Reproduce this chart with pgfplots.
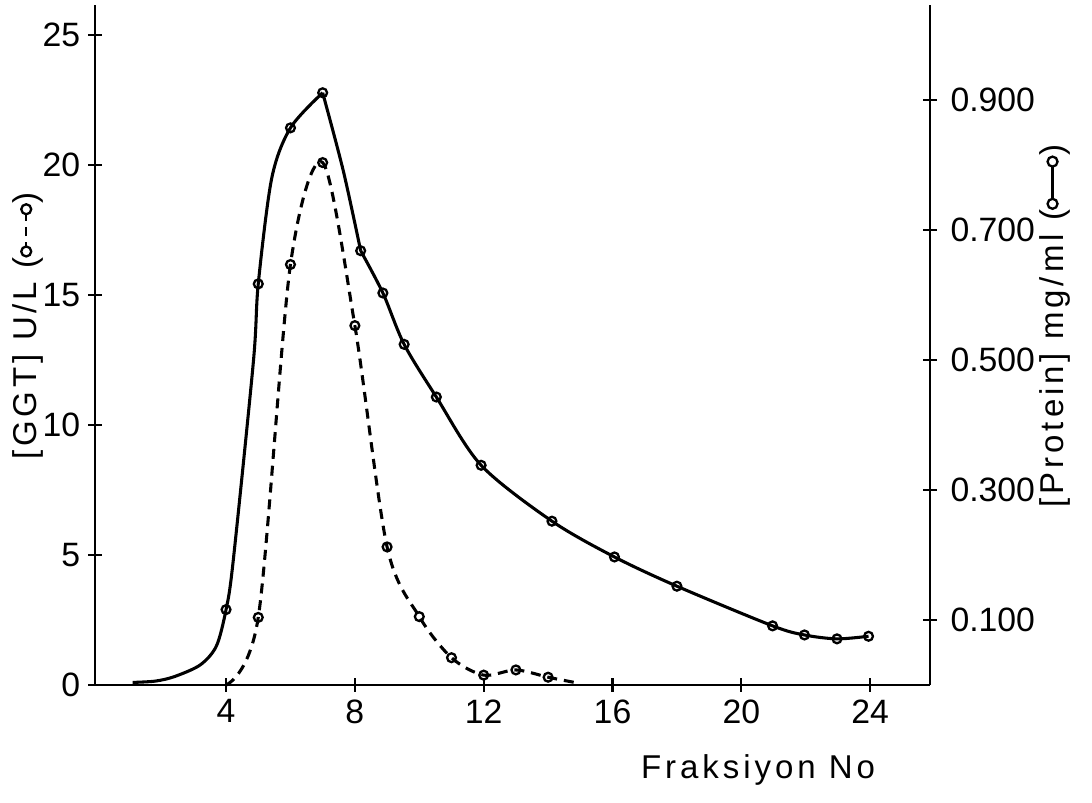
\documentclass[border=0pt]{standalone}
\usepackage{fontspec}
\setmainfont{Liberation Sans}
\newfontfamily\labfont{Liberation Sans}[LetterSpace=12]
\usepackage{pgfplots}
\pgfplotsset{compat=1.18}

% GGT activity, U/L (dashed, left axis)
\pgfplotstableread{
x y
4     0
5     2.60
6     16.17
7     20.09
8     13.82
9     5.31
10    2.63
11    1.05
12    0.38
13    0.58
14    0.30
14.86 0.09
}\ggt
\pgfplotstableread{
x y
5     2.60
6     16.17
7     20.09
8     13.82
9     5.31
10    2.63
11    1.05
12    0.38
13    0.58
14    0.30
}\ggtPts
% protein, mg/ml (solid, right axis): rise to the peak
\pgfplotstableread{
x y
1.1  0.004
1.8  0.006
2.4  0.013
3.2  0.031
3.7  0.060
4    0.116
4.22 0.190
4.85 0.498
5    0.617
5.42 0.780
6    0.857
7    0.911
}\protA
\pgfplotstableread{
x y
7     0.911
7.64  0.791
8.18  0.668
}\protB
\pgfplotstableread{
x y
8.18  0.668
8.87  0.603
9.53  0.524
10.53 0.443
11.92 0.338
14.12 0.252
16.06 0.197
18.0  0.152
20.97 0.091
21.96 0.077
22.97 0.071
23.95 0.075
}\protC
% measured protein points
\pgfplotstableread{
x y
4     0.116
5     0.617
6     0.857
7     0.911
8.18  0.668
8.87  0.603
9.53  0.524
10.53 0.443
11.92 0.338
14.12 0.252
16.06 0.197
18.0  0.152
20.97 0.091
21.96 0.077
22.97 0.071
23.95 0.075
}\protPts

\newcommand\tickfont{\fontsize{8.8}{10}\selectfont}
\newcommand\sym[1]{\tikz[baseline=-0.6ex]{\draw[#1,line width=0.6pt] (0,0)--(11pt,0);
  \draw[line width=0.6pt,fill=white] (0,0) circle (1.3pt) (11pt,0) circle (1.3pt);}}

\pgfplotsset{
  base/.style={
    scale only axis, width=217.6pt, height=177.2pt,
    xmin=-0.07, xmax=25.86,
    axis line style={line width=0.65pt},
    tick style={line width=0.6pt, black},
    tick align=center, major tick length=3.6pt,
    tick label style={font=\tickfont},
    /pgf/number format/assume math mode=true,
    label style={font=\labfont\fontsize{8.6}{10}\selectfont},
    clip=false,
  },
  ptmark/.style={only marks, mark=o, mark size=1.15pt, mark options={line width=0.6pt, fill=white}},
}

\begin{document}
\begin{tikzpicture}
\path[use as bounding box] (-24.75pt,-30.7pt) rectangle (259.8pt,178.5pt);
\begin{axis}[base,
  ymin=0, ymax=26.15,
  axis y line*=left, axis x line*=bottom,
  xtick={4,8,...,24}, ytick={0,5,...,25},
  yticklabel style={xshift=1.5pt},
  xticklabel style={yshift=1.5pt},
  xlabel={Fraksiyon No},
  xlabel style={at={(axis description cs:0.794,-0.125)}, anchor=center},
  ylabel={[GGT] U/L (\sym{dash pattern=on 2.4pt off 1.6pt})},
  ylabel style={at={(axis description cs:-0.080,0.528)}, anchor=center},
]
\addplot[black, line width=0.8pt, smooth, dash pattern=on 2.6pt off 1.8pt] table {\ggt};
\addplot[black, ptmark] table {\ggtPts};
\end{axis}
\begin{axis}[base,
  ymin=0, ymax=1.046,
  axis y line*=right, axis x line=none,
  ytick={0.1,0.3,0.5,0.7,0.9},
  yticklabels={0.100,0.300,0.500,0.700,0.900},
  ylabel={[Protein] mg/ml (\sym{solid})},
  ylabel style={at={(axis description cs:1.149,0.528)}, anchor=center},
]
\addplot[black, line width=0.8pt, smooth] table {\protA};
\addplot[black, line width=0.8pt, smooth] table {\protB};
\addplot[black, line width=0.8pt, smooth] table {\protC};
\addplot[black, ptmark] table {\protPts};
\end{axis}
\end{tikzpicture}
\end{document}
